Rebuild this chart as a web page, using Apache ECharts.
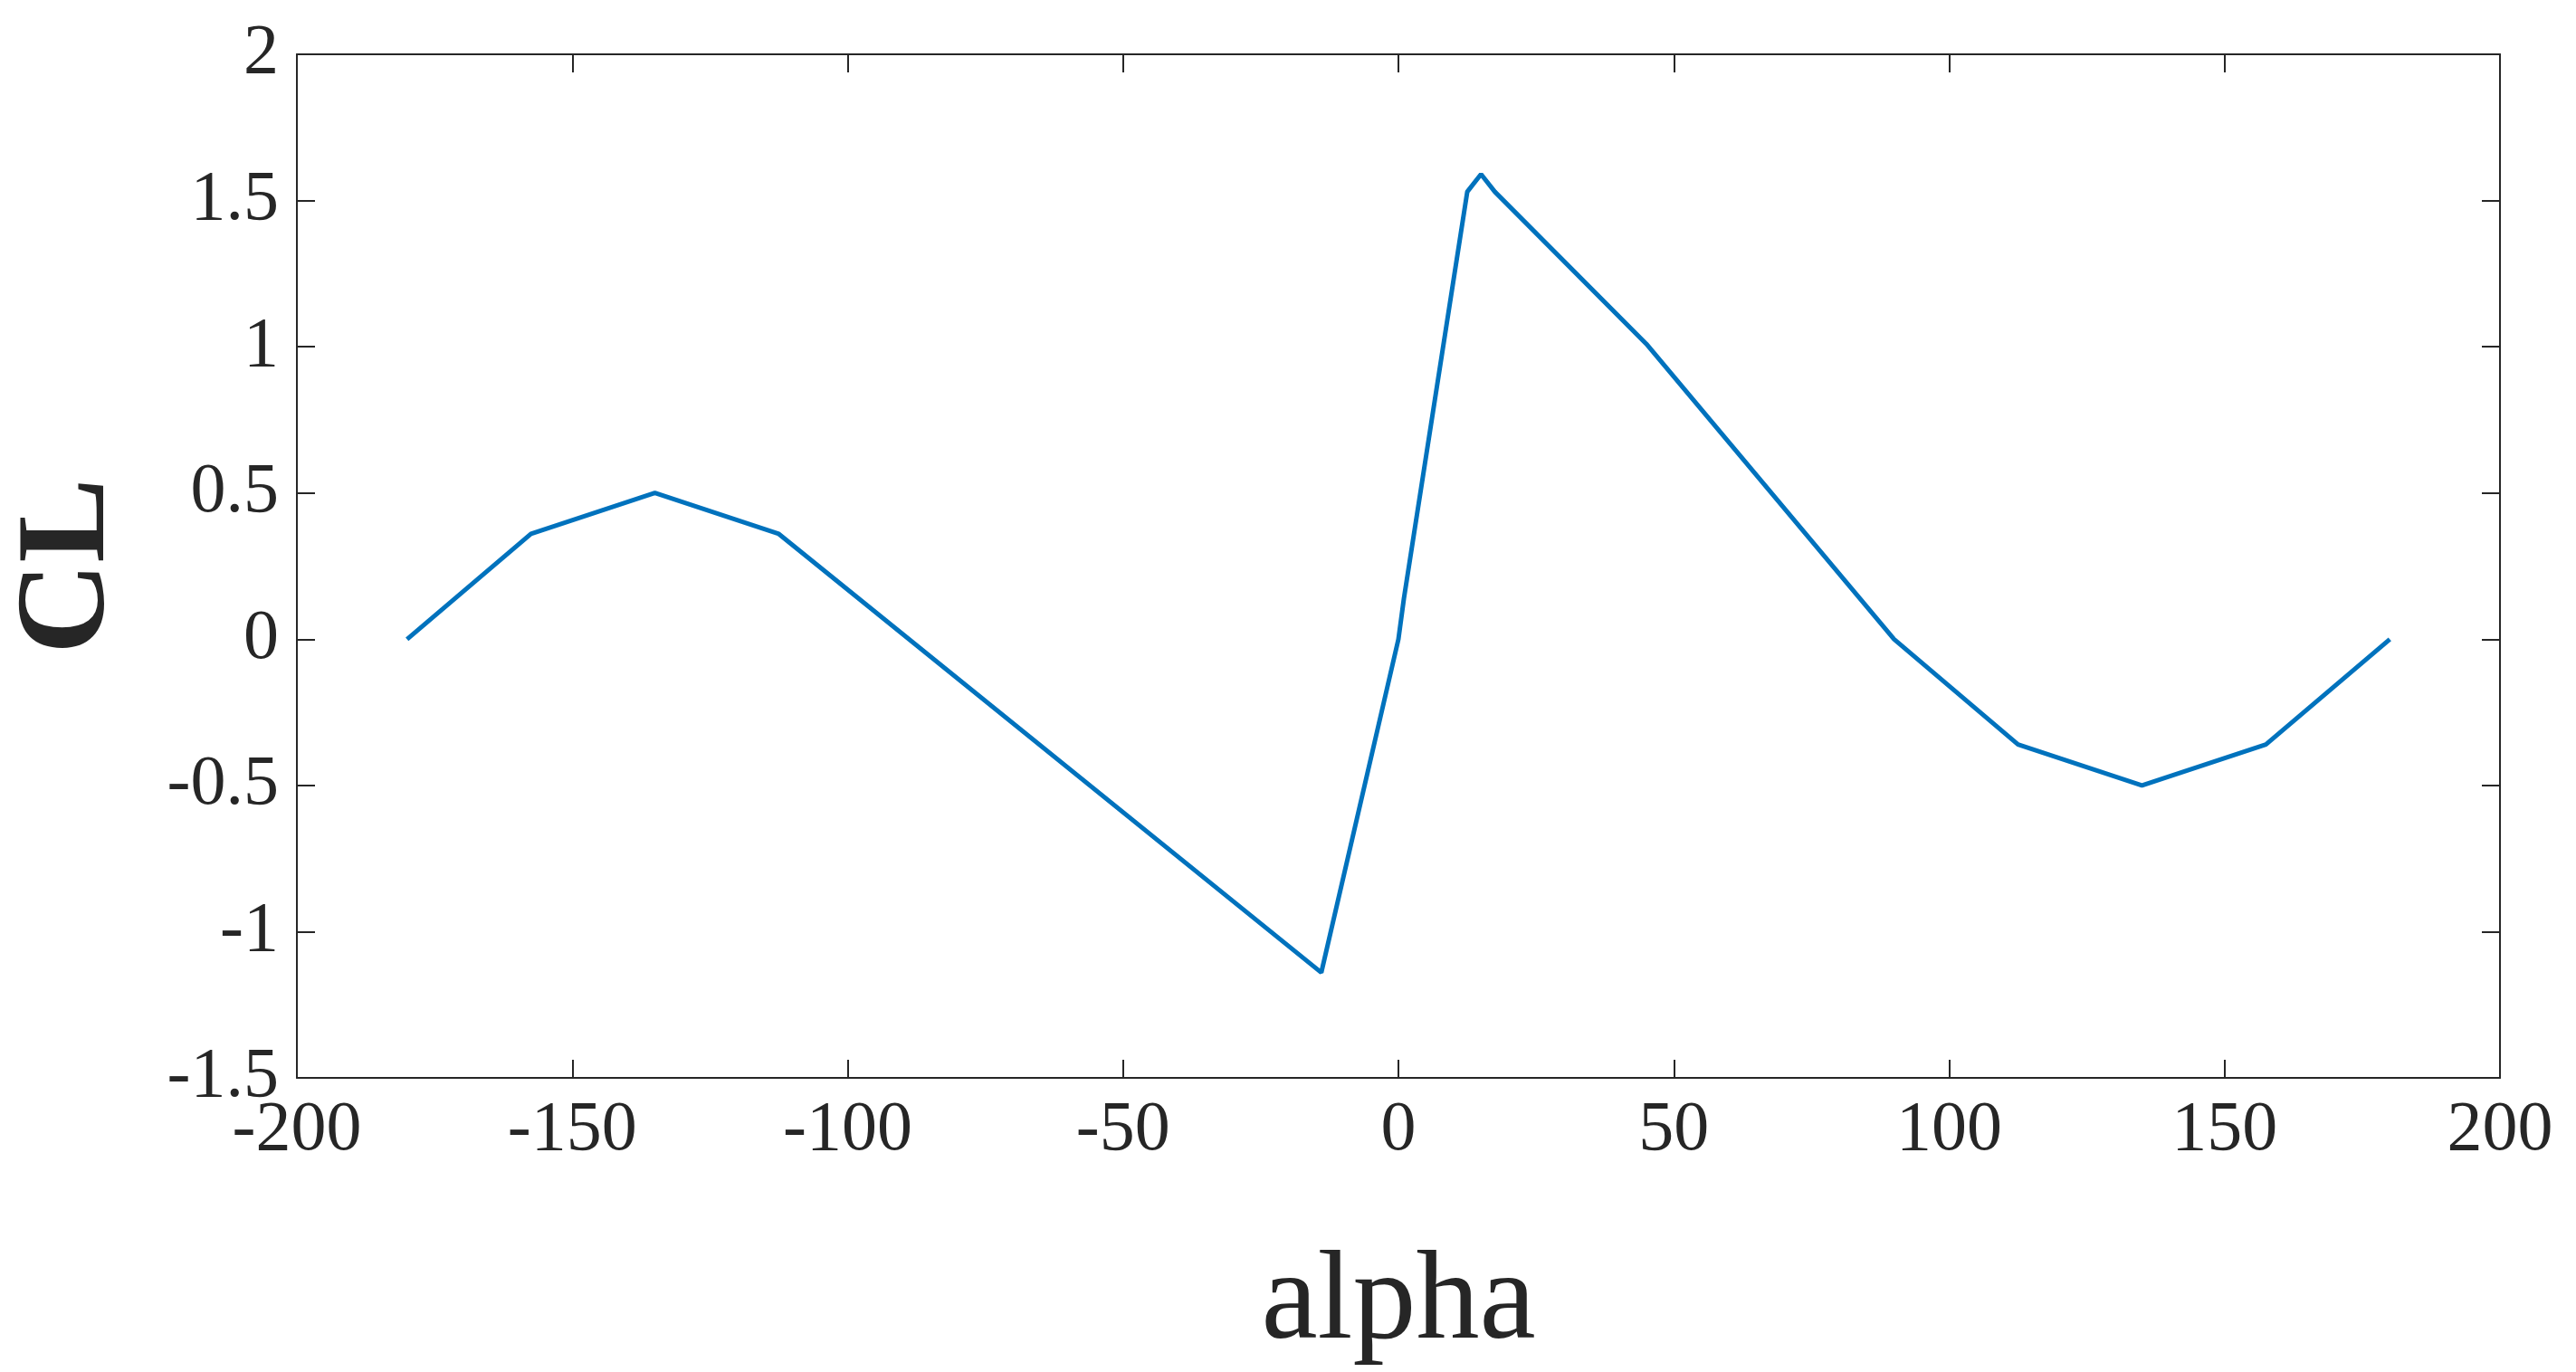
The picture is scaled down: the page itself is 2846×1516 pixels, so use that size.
<!DOCTYPE html><html><head><meta charset="utf-8"><script src="https://cdn.jsdelivr.net/npm/echarts@6/dist/echarts.min.js"></script>
<style>html,body{margin:0;background:#fff}#c{width:2846px;height:1516px}</style></head><body><div id="c"></div><script>
const alpha=[-180,-157.5,-135,-112.5,-14,0,1,12.5,15,17.5,45,90,112.5,135,157.5,180];
const cl=[0,0.36,0.5,0.36,-1.14,0,0.14,1.53,1.59,1.53,1.01,0,-0.36,-0.5,-0.36,0];
const xTicks=[-200,-150,-100,-50,0,50,100,150,200];
const yTicks=[-1.5,-1,-0.5,0,0.5,1,1.5,2];
const F='Liberation Serif';
const ax={onZero:false,lineStyle:{color:'#262626',width:2}};
const tk={inside:true,length:20,lineStyle:{color:'#262626',width:2}};
const chart=echarts.init(document.getElementById('c'));
chart.setOption({
 grid:{left:305,right:84,top:60,bottom:272},
 xAxis:[{type:'value',min:-200,max:200,interval:50,name:'alpha',nameLocation:'middle',nameGap:180,
  nameTextStyle:{fontFamily:F,fontSize:140,color:'#262626'},
  axisLine:ax,axisTick:tk,
  axisLabel:{fontFamily:F,fontSize:78,color:'#262626',margin:20},splitLine:{show:false}},
  {type:'value',min:-200,max:200,interval:50,position:'top',axisLine:ax,axisTick:tk,axisLabel:{show:false},splitLine:{show:false}}],
 yAxis:[{type:'value',min:-1.5,max:2,interval:0.5,name:'CL',nameLocation:'middle',nameGap:180,
  nameTextStyle:{fontFamily:F,fontSize:140,color:'#262626',fontWeight:'bold'},
  axisLine:ax,axisTick:tk,
  axisLabel:{fontFamily:F,fontSize:78,color:'#262626',margin:20},splitLine:{show:false}},
  {type:'value',min:-1.5,max:2,interval:0.5,position:'right',axisLine:ax,axisTick:tk,axisLabel:{show:false},splitLine:{show:false}}],
 series:[{type:'line',data:alpha.map((a,i)=>[a,cl[i]]),symbol:'none',lineStyle:{color:'#0072BD',width:5}}]
});
</script></body></html>
